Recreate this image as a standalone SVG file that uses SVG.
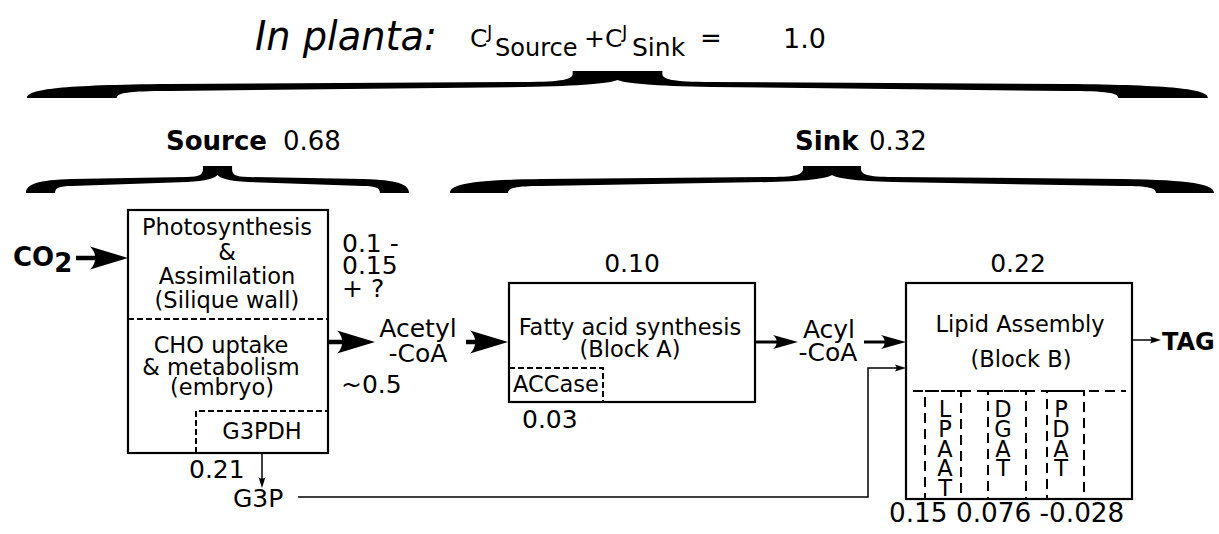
<svg xmlns="http://www.w3.org/2000/svg" width="1219" height="534" viewBox="0 0 1219 534">
<style>
text{font-family:"DejaVu Sans","Liberation Sans",sans-serif;fill:#000}
.b{font-weight:bold}
.c{text-anchor:middle}
.t22{font-size:22.5px}
.n{font-size:25px}
.box{fill:#fff;stroke:#000;stroke-width:2.2}
.dash{fill:none;stroke:#000;stroke-width:2;stroke-dasharray:6 3}
.dash2{fill:none;stroke:#000;stroke-width:2;stroke-dasharray:10 6}
.thick{fill:none;stroke:#000;stroke-width:4.5}
.med{fill:none;stroke:#000;stroke-width:3}
.thin{fill:none;stroke:#000;stroke-width:1.5}
</style>
<defs>
<path id="brace" d="M0 27 C0 18 30 14 120 13 L420 11 C455 11 462 8 462 3 L462 0 L538 0 L538 3 C538 8 545 11 580 11 L880 13 C970 14 1000 18 1000 27 L924 27 C924 22 915 20 880 20 L580 16 C530 15 505 12 500 9 C495 12 470 15 420 16 L120 20 C85 20 76 22 76 27 Z"/>
<marker id="ahL" markerUnits="userSpaceOnUse" markerWidth="40" markerHeight="26" refX="22" refY="13" orient="auto" overflow="visible"><path d="M38 13 L0 1.5 C7 8 7 18 0 24.5 Z"/></marker>
<marker id="ahM" markerUnits="userSpaceOnUse" markerWidth="26" markerHeight="16" refX="14" refY="8" orient="auto" overflow="visible"><path d="M25 8 L0 1 C5 5 5 11 0 15 Z"/></marker>
<marker id="ahS" markerUnits="userSpaceOnUse" markerWidth="12" markerHeight="8" refX="6" refY="4" orient="auto" overflow="visible"><path d="M11 4 L0 0.5 C2 2.5 2 5.5 0 7.5 Z"/></marker>
</defs>

<g id="title">
<text x="255" y="50" style="font-size:40px;font-style:italic" textLength="182" lengthAdjust="spacingAndGlyphs">In planta:</text>
<text x="470" y="47" style="font-size:25px">C</text>
<text x="487" y="38" style="font-size:18px">J</text>
<text x="495" y="56" style="font-size:24px">Source</text>
<text x="584" y="47" style="font-size:25px">+</text>
<text x="605" y="47" style="font-size:25px">C</text>
<text x="622" y="38" style="font-size:18px">J</text>
<text x="632" y="56" style="font-size:25px">Sink</text>
<text x="700" y="47" style="font-size:26px">=</text>
<text x="783" y="48" style="font-size:27px">1.0</text>
</g>

<g id="braces">
<use href="#brace" transform="translate(27,71) scale(1.181,1)"/>
<use href="#brace" transform="translate(26,166) scale(0.383,1)"/>
<use href="#brace" transform="translate(450,166) scale(0.764,1)"/>
</g>

<g id="labels">
<text x="166" y="150" class="b" style="font-size:26px">Source</text>
<text x="283" y="150" style="font-size:26px">0.68</text>
<text x="795" y="150" class="b" style="font-size:26px">Sink</text>
<text x="869" y="150" style="font-size:26px">0.32</text>
</g>

<g id="co2">
<text x="13" y="266" class="b" style="font-size:26px">CO<tspan dy="6">2</tspan></text>
</g>

<g id="source-box">
<rect class="box" x="128" y="210" width="200" height="243"/>
<line class="dash" x1="128" y1="319" x2="328" y2="319"/>
<path class="dash" d="M196 453 V411 H328"/>
<text class="t22 c" x="227" y="235">Photosynthesis</text>
<text class="t22 c" x="227" y="260">&amp;</text>
<text class="t22 c" x="227" y="284">Assimilation</text>
<text class="t22 c" x="227" y="308">(Silique wall)</text>
<text class="t22 c" x="221" y="353">CHO uptake</text>
<text class="t22 c" x="221" y="375">&amp; metabolism</text>
<text class="t22 c" x="222" y="395">(embryo)</text>
<text class="t22 c" x="262" y="439">G3PDH</text>
</g>

<g id="source-values">
<text class="n" x="342" y="252">0.1 -</text>
<text class="n" x="342" y="274">0.15</text>
<text class="n" x="342" y="297">+ ?</text>
<text class="n" x="341" y="393">~0.5</text>
<text class="n" x="189" y="478">0.21</text>
</g>

<g id="acetyl">
<text class="c" x="418" y="337" style="font-size:25px">Acetyl</text>
<text class="c" x="418" y="362" style="font-size:25px">-CoA</text>
</g>

<g id="g3p">
<text x="233" y="507" style="font-size:25px">G3P</text>
</g>

<g id="fas-box">
<text class="n c" x="632" y="272">0.10</text>
<rect class="box" x="509" y="283" width="246" height="119"/>
<path class="dash" d="M509 368 H603 V402"/>
<text class="t22 c" x="630" y="335">Fatty acid synthesis</text>
<text class="t22 c" x="630" y="357">(Block A)</text>
<text class="t22" x="513" y="392">ACCase</text>
<text class="n" x="522" y="428">0.03</text>
</g>

<g id="acyl">
<text class="c" x="829" y="338" style="font-size:25px">Acyl</text>
<text class="c" x="828" y="361" style="font-size:25px">-CoA</text>
</g>

<g id="lipid-box">
<text class="n c" x="1018" y="272">0.22</text>
<rect class="box" x="906" y="283" width="226" height="216"/>
<text class="t22 c" x="1020" y="332">Lipid Assembly</text>
<text class="t22 c" x="1021" y="367">(Block B)</text>
<line class="dash2" x1="913" y1="391" x2="1126" y2="391"/>
<rect class="dash2" x="925" y="391" width="36" height="108"/>
<rect class="dash2" x="988" y="391" width="38" height="108"/>
<rect class="dash2" x="1047" y="391" width="37" height="108"/>
<text class="t22 c" x="945" y="417">L</text>
<text class="t22 c" x="945" y="437">P</text>
<text class="t22 c" x="945" y="457">A</text>
<text class="t22 c" x="945" y="476">A</text>
<text class="t22 c" x="945" y="496">T</text>
<text class="t22 c" x="1003" y="417">D</text>
<text class="t22 c" x="1003" y="437">G</text>
<text class="t22 c" x="1003" y="457">A</text>
<text class="t22 c" x="1003" y="476">T</text>
<text class="t22 c" x="1061" y="417">P</text>
<text class="t22 c" x="1061" y="437">D</text>
<text class="t22 c" x="1061" y="457">A</text>
<text class="t22 c" x="1061" y="476">T</text>
<text x="889" y="522" style="font-size:26.3px">0.15 0.076 -0.028</text>
</g>

<g id="tag">
<text x="1162" y="350" class="b" style="font-size:24px">TAG</text>
</g>

<g id="connectors">
<line class="thick" x1="76" y1="258" x2="112" y2="258" marker-end="url(#ahL)"/>
<line class="thick" x1="328" y1="342" x2="359" y2="342" marker-end="url(#ahL)"/>
<line class="thick" x1="466" y1="342" x2="492" y2="342" marker-end="url(#ahL)"/>
<line class="med" x1="755" y1="342" x2="787" y2="342" marker-end="url(#ahM)"/>
<line class="med" x1="864" y1="342" x2="895" y2="342" marker-end="url(#ahM)"/>
<line class="thin" x1="262" y1="453" x2="262" y2="483" marker-end="url(#ahS)"/>
<path class="thin" d="M298 497 H868 V368 H901" marker-end="url(#ahS)"/>
<line class="thin" x1="1132" y1="340" x2="1156" y2="340" marker-end="url(#ahS)"/>
</g>
</svg>
